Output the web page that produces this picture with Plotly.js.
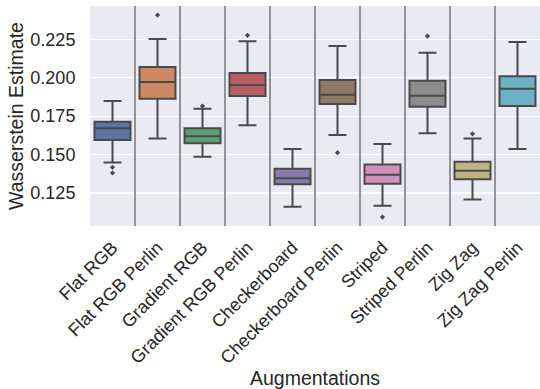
<!DOCTYPE html>
<html><head><meta charset="utf-8">
<script src="https://cdn.plot.ly/plotly-3.0.1.min.js"></script>
<style>html,body{margin:0;padding:0;background:#fff}#chart{width:540px;height:389px}</style>
</head><body><div id="chart"></div>
<script>
const categories = ["Flat RGB","Flat RGB Perlin","Gradient RGB","Gradient RGB Perlin","Checkerboard","Checkerboard Perlin","Striped","Striped Perlin","Zig Zag","Zig Zag Perlin"];
const lowerWhisker = [0.1449,0.1605,0.1486,0.1690,0.1160,0.1627,0.1167,0.1638,0.1208,0.1536];
const q1Values     = [0.1594,0.1863,0.1573,0.1881,0.1306,0.1829,0.1310,0.1811,0.1339,0.1816];
const medianValues = [0.1671,0.1972,0.1620,0.1952,0.1345,0.1889,0.1369,0.1883,0.1395,0.1928];
const q3Values     = [0.1714,0.2070,0.1671,0.2031,0.1408,0.1985,0.1436,0.1980,0.1453,0.2009];
const upperWhisker = [0.1848,0.2252,0.1798,0.2237,0.1536,0.2206,0.1568,0.2163,0.1605,0.2232];
const outlierCats  = ["Flat RGB","Flat RGB","Flat RGB Perlin","Gradient RGB","Gradient RGB Perlin","Checkerboard Perlin","Striped","Striped Perlin","Zig Zag"];
const outlierVals  = [0.1417,0.1380,0.2408,0.1816,0.2276,0.1512,0.1093,0.2271,0.1635];
const colors = ["#5875a4","#cc8963","#5f9e6e","#b55d60","#857aab","#8d7866","#d091bb","#8c8c8c","#beb285","#6db1c6"];

const traces = categories.map((c,i)=>({
  type:'box', x:[c], q1:[q1Values[i]], median:[medianValues[i]], q3:[q3Values[i]],
  lowerfence:[lowerWhisker[i]], upperfence:[upperWhisker[i]],
  width:0.8, whiskerwidth:0.5, fillcolor:colors[i],
  line:{color:'#4a4a4a', width:2}, boxpoints:false, hoverinfo:'skip', showlegend:false
}));
traces.push({type:'scatter', mode:'markers', x:outlierCats, y:outlierVals,
  marker:{symbol:'diamond', size:4, color:'#4a4a4a'}, showlegend:false, hoverinfo:'skip'});

const shapes = categories.slice(1).map((c,i)=>({
  type:'line', xref:'x', yref:'paper', x0:i+0.5, x1:i+0.5, y0:0, y1:1,
  line:{color:'#8a8a8a', width:1.8}
}));

const layout = {
  width:540, height:389,
  margin:{l:90, r:0, t:6, b:163},
  paper_bgcolor:'#ffffff', plot_bgcolor:'#eaeaf2',
  font:{family:'"Liberation Sans", Arial, sans-serif', color:'#262626', size:18},
  xaxis:{type:'category', categoryorder:'array', categoryarray:categories,
    range:[-0.5, categories.length-0.5],
    showgrid:false, zeroline:false, tickangle:-45, ticks:'outside', ticklen:3, tickcolor:'rgba(0,0,0,0)',
    tickfont:{size:18},
    title:{text:'Augmentations', font:{size:19.5}, standoff:6}},
  yaxis:{range:[0.1035,0.2467], tick0:0.125, dtick:0.025, tickformat:'.3f',
    showgrid:true, gridcolor:'#ffffff', gridwidth:1.3, zeroline:false,
    ticks:'outside', ticklen:10, tickcolor:'rgba(0,0,0,0)', tickfont:{size:18},
    title:{text:'Wasserstein Estimate', font:{size:19.5}, standoff:1}},
  shapes:shapes
};
Plotly.newPlot('chart', traces, layout, {staticPlot:true, displayModeBar:false});
</script></body></html>
